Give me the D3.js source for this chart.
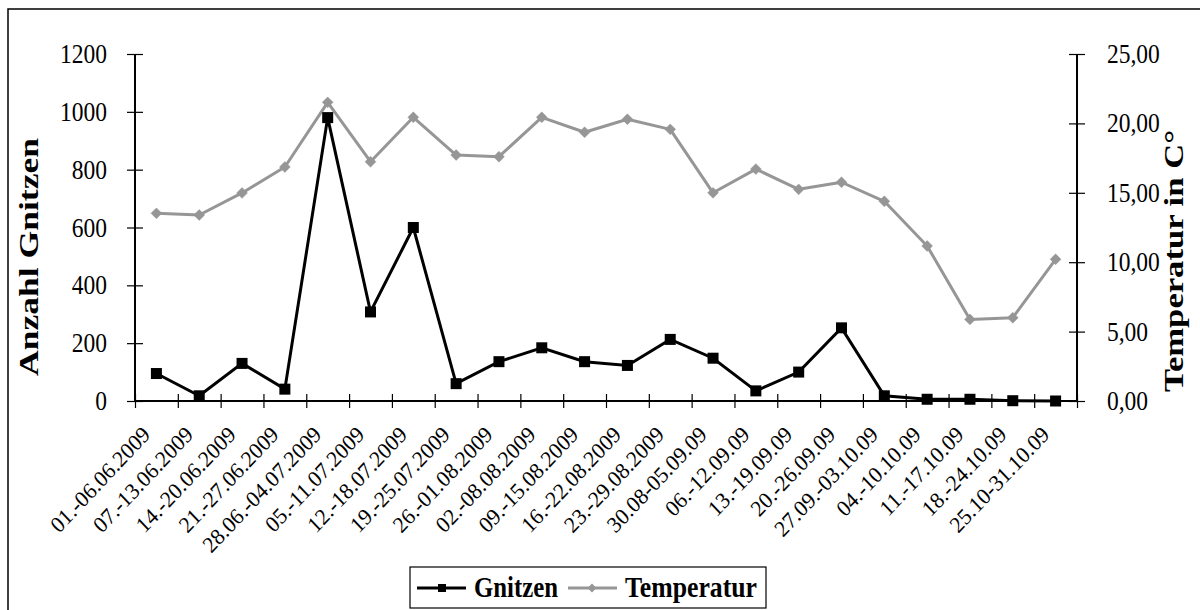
<!DOCTYPE html>
<html>
<head>
<meta charset="utf-8">
<script src="https://cdn.jsdelivr.net/npm/d3@7"></script>
<style>
  html, body { margin: 0; padding: 0; background: #fff; }
  svg { display: block; font-family: "Liberation Serif", "Times New Roman", serif; }
</style>
</head>
<body>
<svg id="chart" width="1200" height="610"></svg>
<script>
const categories = ["01.-06.06.2009","07.-13.06.2009","14.-20.06.2009","21.-27.06.2009","28.06.-04.07.2009","05.-11.07.2009","12.-18.07.2009","19.-25.07.2009","26.-01.08.2009","02.-08.08.2009","09.-15.08.2009","16.-22.08.2009","23.-29.08.2009","30.08-05.09.09","06.-12.09.09","13.-19.09.09","20.-26.09.09","27.09.-03.10.09","04.-10.10.09","11.-17.10.09","18.-24.10.09","25.10-31.10.09"];
const gnitzen = [95, 18, 130, 41, 980, 308, 600, 60, 136, 184, 136, 123, 213, 148, 35, 100, 253, 18, 6, 6, 1, 0];
const temperatur = [13.52, 13.40, 14.99, 16.86, 21.52, 17.24, 20.44, 17.72, 17.60, 20.44, 19.36, 20.30, 19.57, 15.00, 16.71, 15.25, 15.76, 14.39, 11.17, 5.88, 6.00, 10.21];
const leftTicks = [0, 200, 400, 600, 800, 1000, 1200];
const rightTicks = [0, 5, 10, 15, 20, 25];
const leftTitle = "Anzahl Gnitzen";
const rightTitle = "Temperatur in C°";
const seriesNames = ["Gnitzen", "Temperatur"];

const svg = d3.select("#chart");
const L = 135, R = 1077, T = 54, B = 401;
const GRAY = "#969696";
const FONT = "Liberation Serif, Times New Roman, serif";

// outer frame (top & left visible)
svg.append("path").attr("d", "M8,610V9H1200").attr("fill", "none").attr("stroke", "#000").attr("stroke-width", 1.5);

const x = d3.scaleBand().domain(categories).range([L, R]);
const xb = d3.scaleLinear().domain([0, categories.length]).range([L, R]);
const yL = d3.scaleLinear().domain([0, 1200]).range([B, T]);
const yR = d3.scaleLinear().domain([0, 25]).range([B, T]);
const cx = d => x(d) + x.bandwidth() / 2;

// left axis
const ga = svg.append("g").attr("transform", `translate(${L},0)`)
  .call(d3.axisLeft(yL).tickValues(leftTicks).tickSize(8).tickPadding(20).tickFormat(d3.format("d")));
ga.select(".domain").attr("stroke-width", 2).attr("d", `M0,${T}V${B}`);
ga.selectAll(".tick line").attr("x1", -8).attr("x2", 8).attr("stroke-width", 1.2);
ga.selectAll(".tick text").attr("font-size", 23.5).attr("fill", "#000").attr("font-family", FONT)
  .attr("transform", "scale(1,1.13)");

// right axis
const gr = svg.append("g").attr("transform", `translate(${R},0)`)
  .call(d3.axisRight(yR).tickValues(rightTicks).tickSize(8).tickPadding(22).tickFormat(d => d3.format(".2f")(d).replace(".", ",")));
gr.select(".domain").attr("stroke-width", 2).attr("d", `M0,${T}V${B}`);
gr.selectAll(".tick line").attr("x1", -8).attr("x2", 8).attr("stroke-width", 1.2);
gr.selectAll(".tick text").attr("font-size", 23.5).attr("fill", "#000").attr("font-family", FONT)
  .attr("transform", "scale(1,1.13)");

// x axis ticks (category boundaries)
const gx = svg.append("g").attr("transform", `translate(0,${B})`)
  .call(d3.axisBottom(xb).tickValues(d3.range(categories.length + 1)).tickSize(7).tickFormat(""));
gx.select(".domain").attr("stroke-width", 2).attr("d", `M${L},0H${R}`);
gx.selectAll(".tick line").attr("y1", -7).attr("y2", 7).attr("stroke-width", 1.2);

// x labels
const gxl = svg.append("g").attr("transform", `translate(0,${B})`)
  .call(d3.axisBottom(x).tickSize(0).tickPadding(0));
gxl.select(".domain").remove();
gxl.selectAll(".tick text")
  .attr("font-size", 21.5).attr("fill", "#000").attr("font-family", FONT)
  .attr("text-anchor", "end").attr("dy", 0).attr("y", 0)
  .attr("transform", "translate(-5,35) scale(1,1.06) rotate(-45)");

// titles
svg.append("text").attr("transform", "translate(38,257) rotate(-90)")
  .attr("text-anchor", "middle").attr("font-size", 27).attr("font-weight", "bold")
  .attr("textLength", 238).attr("lengthAdjust", "spacingAndGlyphs").text(leftTitle);
svg.append("text").attr("transform", "translate(1183,261) rotate(-90)")
  .attr("text-anchor", "middle").attr("font-size", 27).attr("font-weight", "bold")
  .attr("textLength", 262).attr("lengthAdjust", "spacingAndGlyphs").text(rightTitle);

// lines
const lineL = d3.line().x((d, i) => cx(categories[i])).y(d => yL(d));
const lineR = d3.line().x((d, i) => cx(categories[i])).y(d => yR(d));

svg.append("path").datum(temperatur).attr("d", lineR).attr("fill", "none")
  .attr("stroke", GRAY).attr("stroke-width", 3).attr("stroke-linejoin", "round");
svg.append("g").selectAll("path").data(temperatur).join("path")
  .attr("transform", (d, i) => `translate(${cx(categories[i])},${yR(d)})`)
  .attr("d", d3.symbol(d3.symbolDiamond2, 75)).attr("fill", GRAY).attr("stroke", GRAY).attr("stroke-width", 0.5);

svg.append("path").datum(gnitzen).attr("d", lineL).attr("fill", "none")
  .attr("stroke", "#000").attr("stroke-width", 3).attr("stroke-linejoin", "miter");
svg.append("g").selectAll("rect").data(gnitzen).join("rect")
  .attr("x", (d, i) => cx(categories[i]) - 5.5).attr("y", d => yL(d) - 5.5)
  .attr("width", 11).attr("height", 11).attr("fill", "#000");

// legend
const lg = svg.append("g");
lg.append("rect").attr("x", 410).attr("y", 567).attr("width", 356).attr("height", 41)
  .attr("fill", "#fff").attr("stroke", "#000").attr("stroke-width", 1.2);
lg.append("line").attr("x1", 417).attr("x2", 466).attr("y1", 588).attr("y2", 588).attr("stroke", "#000").attr("stroke-width", 3);
lg.append("rect").attr("x", 438).attr("y", 584).attr("width", 8).attr("height", 8).attr("fill", "#000");
lg.append("text").attr("transform", "translate(474,597) scale(1,1.15)").attr("font-size", 25).attr("font-weight", "bold")
  .attr("textLength", 84).attr("lengthAdjust", "spacingAndGlyphs").text(seriesNames[0]);
lg.append("line").attr("x1", 568).attr("x2", 617).attr("y1", 588).attr("y2", 588).attr("stroke", GRAY).attr("stroke-width", 3);
lg.append("path").attr("transform", "translate(592,588)").attr("d", d3.symbol(d3.symbolDiamond2, 50)).attr("fill", GRAY);
lg.append("text").attr("transform", "translate(625,597) scale(1,1.15)").attr("font-size", 25).attr("font-weight", "bold")
  .attr("textLength", 132).attr("lengthAdjust", "spacingAndGlyphs").text(seriesNames[1]);
</script>
</body>
</html>
